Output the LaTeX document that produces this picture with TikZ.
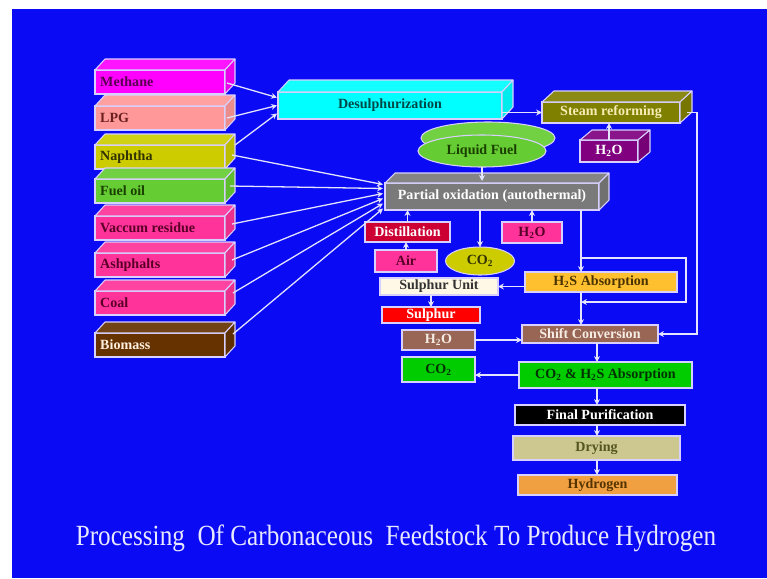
\documentclass[tikz,border=0pt]{standalone}
\usepackage{fontspec}
\setmainfont{Liberation Serif}
\usetikzlibrary{calc,arrows.meta,shapes.geometric}
\definecolor{bg}{RGB}{10,10,245}
\definecolor{edge}{RGB}{216,208,255}
\definecolor{wire}{RGB}{228,228,255}
\definecolor{titlec}{RGB}{232,232,255}
\definecolor{methc}{RGB}{255,0,255}\definecolor{metht}{RGB}{90,0,80}
\definecolor{lpgc}{RGB}{255,153,153}\definecolor{lpgt}{RGB}{107,32,32}
\definecolor{naphc}{RGB}{204,204,0}\definecolor{napht}{RGB}{51,51,0}
\definecolor{fuelc}{RGB}{102,204,51}\definecolor{fuelt}{RGB}{26,64,0}
\definecolor{pinkc}{RGB}{255,51,153}\definecolor{pinkt}{RGB}{90,0,40}
\definecolor{biomc}{RGB}{102,51,0}\definecolor{biomt}{RGB}{255,240,224}
\definecolor{desc}{RGB}{0,255,255}\definecolor{dest}{RGB}{0,72,72}
\definecolor{steamc}{RGB}{128,128,0}\definecolor{steamt}{RGB}{245,237,181}
\definecolor{purpc}{RGB}{128,0,128}
\definecolor{poxc}{RGB}{122,122,122}
\definecolor{distc}{RGB}{204,0,51}
\definecolor{suc}{RGB}{255,248,230}\definecolor{sut}{RGB}{51,51,51}
\definecolor{sulc}{RGB}{255,0,0}
\definecolor{brownc}{RGB}{153,102,85}\definecolor{brownt}{RGB}{245,236,228}
\definecolor{greenc}{RGB}{0,204,0}\definecolor{greent}{RGB}{0,51,0}
\definecolor{dryc}{RGB}{204,200,143}\definecolor{dryt}{RGB}{85,85,34}
\definecolor{hydc}{RGB}{240,160,64}\definecolor{hydt}{RGB}{85,51,0}
\definecolor{h2sc}{RGB}{255,192,48}\definecolor{h2st}{RGB}{74,51,0}
\tikzset{
  face/.style={draw=edge, line width=0.9pt, inner sep=0pt, outer sep=0pt, font=\bfseries\fontsize{12}{14}\selectfont},
  lbl/.style={inner sep=0pt, font=\bfseries\fontsize{12}{14}\selectfont},
  conn/.style={draw=wire, line width=1.1pt, -{Stealth[length=5pt,width=5pt]}},
}
% rectangle node from pixel corners: name, x1, y1, x2, y2, options, text
\newcommand\unitbox[7]{%
  \pgfmathsetmacro\uw{(#4-#2)*0.03}\pgfmathsetmacro\uh{(#5-#3)*0.03}%
  \node[face, minimum width=\uw cm, minimum height=\uh cm, #6] (#1) at ({(#2+#4)/2},{(#3+#5)/2}) {#7};%
}
% top and side faces of a 3D box: name, fill colour, dx, dy
\newcommand\cubefaces[4]{%
  \filldraw[draw=edge, line width=0.9pt, line join=round, fill=#2!92!white] (#1.north west) -- ++(#3,#4) -- ($(#1.north east)+(#3,#4)$) -- (#1.north east) -- cycle;
  \filldraw[draw=edge, line width=0.9pt, line join=round, fill=#2!92!black] (#1.north east) -- ++(#3,#4) -- ($(#1.south east)+(#3,#4)$) -- (#1.south east) -- cycle;
}
\begin{document}
\begin{tikzpicture}[x=0.03cm,y=-0.03cm]
\useasboundingbox (0,0) rectangle (767,578);
\fill[white] (0,0) rectangle (767,578);
\fill[bg] (12,9) rectangle (767,578);

% feedstocks
\unitbox{methane}{95}{70}{225}{94}{fill=methc}{}\cubefaces{methane}{methc}{10}{-11}
\node[lbl, text=metht, anchor=west] (methane-t) at ($(methane.west)+(5,0)$) {Methane};
\unitbox{lpg}{95}{106}{225}{130}{fill=lpgc}{}\cubefaces{lpg}{lpgc}{10}{-11}
\node[lbl, text=lpgt, anchor=west] (lpg-t) at ($(lpg.west)+(5,0)$) {LPG};
\unitbox{naphtha}{95}{145}{225}{169}{fill=naphc}{}\cubefaces{naphtha}{naphc}{10}{-11}
\node[lbl, text=napht, anchor=west] (naphtha-t) at ($(naphtha.west)+(5,0)$) {Naphtha};
\unitbox{fuel}{95}{179}{225}{203}{fill=fuelc}{}\cubefaces{fuel}{fuelc}{10}{-11}
\node[lbl, text=fuelt, anchor=west] (fuel-t) at ($(fuel.west)+(5,0)$) {Fuel oil};
\unitbox{vacuum}{95}{216}{225}{240}{fill=pinkc}{}\cubefaces{vacuum}{pinkc}{10}{-11}
\node[lbl, text=pinkt, anchor=west] (vacuum-t) at ($(vacuum.west)+(5,0)$) {Vaccum residue};
\unitbox{asph}{95}{253}{225}{277}{fill=pinkc}{}\cubefaces{asph}{pinkc}{10}{-11}
\node[lbl, text=pinkt, anchor=west] (asph-t) at ($(asph.west)+(5,0)$) {Ashphalts};
\unitbox{coal}{95}{291}{225}{315}{fill=pinkc}{}\cubefaces{coal}{pinkc}{10}{-11}
\node[lbl, text=pinkt, anchor=west] (coal-t) at ($(coal.west)+(5,0)$) {Coal};
\unitbox{biomass}{95}{333}{225}{357}{fill=biomc}{}\cubefaces{biomass}{biomc}{10}{-11}
\node[lbl, text=biomt, anchor=west] (biomass-t) at ($(biomass.west)+(5,0)$) {Biomass};

% main units
\unitbox{desulph}{278}{92}{502}{119}{fill=desc, text=dest}{Desulphurization}\cubefaces{desulph}{desc}{11}{-12}
\unitbox{steam}{542}{102}{680}{123}{fill=steamc, text=steamt}{Steam reforming}\cubefaces{steam}{steamc}{12}{-11}
\unitbox{h2op}{580}{140}{638}{162}{fill=purpc, text=white}{H\textsubscript{2}O}\cubefaces{h2op}{purpc}{12}{-10}
\unitbox{pox}{385}{183}{599}{210}{fill=poxc, text=white}{Partial oxidation (autothermal)}\cubefaces{pox}{poxc}{10}{-10}

\node[ellipse, face, fill=fuelc!92!white, minimum width=4.02cm, minimum height=0.96cm] (liquid-top) at (488,138) {};
\node[ellipse, face, fill=fuelc, minimum width=3.84cm, minimum height=0.96cm, text=fuelt] (liquid) at (482,151) {Liquid Fuel};

\unitbox{dist}{365}{222}{450}{242}{fill=distc, text=white}{Distillation}
\unitbox{h2ok}{502}{222}{562}{243}{fill=pinkc, text=pinkt}{H\textsubscript{2}O}
\unitbox{air}{375}{250}{437}{272}{fill=pinkc, text=pinkt}{Air}
\node[ellipse, face, fill=naphc, text=napht, minimum width=2.07cm, minimum height=0.84cm] (co2e) at (480,261) {CO\textsubscript{2}};
\unitbox{su}{380}{278}{498}{295}{fill=suc, text=sut}{Sulphur Unit}
\unitbox{h2s}{525}{272}{677}{292}{fill=h2sc, text=h2st}{H\textsubscript{2}S Absorption}
\unitbox{sulphur}{382}{307}{480}{323}{fill=sulc, text=white}{Sulphur}
\unitbox{h2ob}{402}{330}{475}{350}{fill=brownc, text=brownt}{H\textsubscript{2}O}
\unitbox{shift}{522}{325}{658}{343}{fill=brownc, text=brownt}{Shift Conversion}
\unitbox{co2g}{402}{357}{475}{382}{fill=greenc, text=greent}{CO\textsubscript{2}}
\unitbox{co2h2s}{519}{362}{692}{388}{fill=greenc, text=greent}{CO\textsubscript{2} \& H\textsubscript{2}S Absorption}
\unitbox{final}{515}{405}{685}{425}{fill=black, text=white}{Final Purification}
\unitbox{drying}{513}{436}{680}{460}{fill=dryc, text=dryt}{Drying}
\unitbox{hydrogen}{518}{475}{677}{495}{fill=hydc, text=hydt}{Hydrogen}

% connectors: feedstocks
\draw[conn] ($(methane.east)+(2,1)$) -- ($(desulph.west)+(-1,-8)$);
\draw[conn] ($(lpg.east)+(2,0)$) -- ($(desulph.west)+(-1,0)$);
\draw[conn] ($(naphtha.east)+(10,-12)$) -- ($(desulph.west)+(-1,8)$);
\draw[conn] ($(naphtha.east)+(7,-2)$) -- ($(pox.west)+(-2,-12)$);
\draw[conn] ($(fuel.east)+(5,-5)$) -- ($(pox.west)+(-2,-8)$);
\draw[conn] ($(vacuum.east)+(7,-4)$) -- ($(pox.west)+(-2,-3)$);
\draw[conn] ($(asph.east)+(7,-5)$) -- ($(pox.west)+(-2,2)$);
\draw[conn] ($(coal.east)+(8,-10)$) -- ($(pox.west)+(-2,7)$);
\draw[conn] ($(biomass.east)+(8,-11)$) -- ($(pox.west)+(-2,12)$);

% connectors: units
\draw[conn] (desulph.east |- steam.west) -- (steam.west);
\draw[conn] (h2op.north) -- (h2op.north |- steam.south);
\draw[conn] (liquid.south) -- ($(liquid.south |- pox.north)+(0,-2)$);
\draw[conn] (dist.north) -- (dist.north |- pox.south);
\draw[conn] (air.north) -- (air.north |- dist.south);
\draw[conn] (co2e.north |- pox.south) -- (co2e.north);
\draw[conn] (h2ok.north) -- (h2ok.north |- pox.south);
\coordinate (j1) at ($(pox.south west)+(196,0)$);
\draw[conn] (j1) -- (j1 |- h2s.north);
\coordinate (tapA) at (581,258);
\coordinate (tapB) at (581,302);
\draw[conn] (tapA) -- ++(105,0) |- (tapB);
\draw[conn] (h2s.south -| j1) -- (shift.north -| j1);
\draw[conn] (h2s.west |- su.east) -- (su.east);
\draw[conn] (sulphur.north |- su.south) -- (sulphur.north);
\draw[conn] (h2ob.east) -- (h2ob.east -| shift.west);
\draw[conn] ($(steam.east)+(7,0)$) -- ++(10,0) |- (shift.east);
\coordinate (spine) at (597,0);
\draw[conn] (shift.south -| spine) -- (co2h2s.north -| spine);
\draw[conn] (co2h2s.west) -- (co2h2s.west -| co2g.east);
\draw[conn] (co2h2s.south -| spine) -- (final.north -| spine);
\draw[conn] (final.south -| spine) -- (drying.north -| spine);
\draw[conn] (drying.south -| spine) -- (hydrogen.north -| spine);

% title
\node[text=titlec, inner sep=0pt, font=\fontsize{25}{30}\selectfont] (title) at (396,538) {\scalebox{0.86}[1]{Processing\ \ Of Carbonaceous\ \ Feedstock To Produce Hydrogen}};
\end{tikzpicture}
\end{document}
